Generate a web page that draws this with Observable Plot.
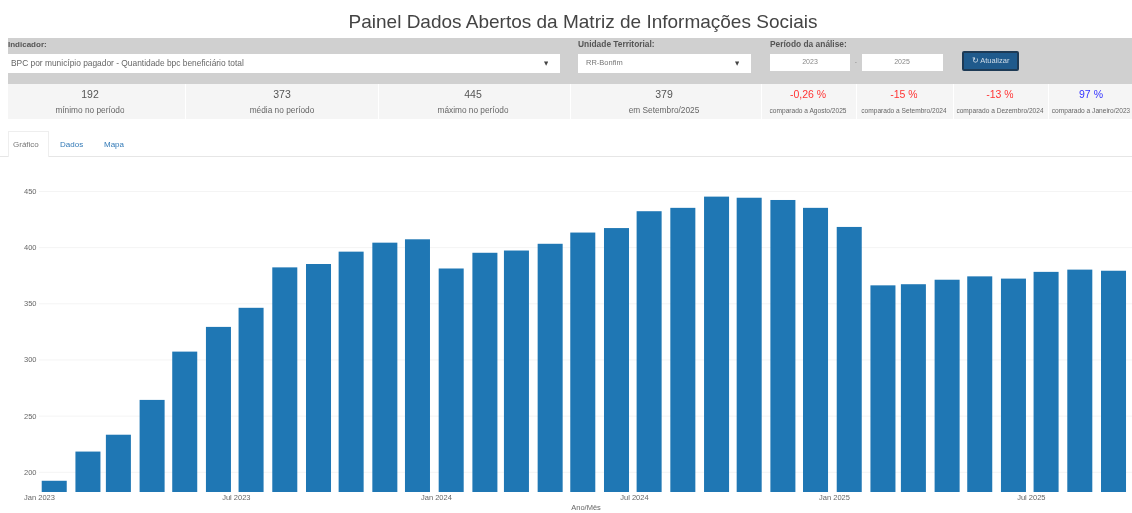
<!DOCTYPE html>
<html lang="pt-BR">
<head>
<meta charset="utf-8">
<script src="https://cdn.jsdelivr.net/npm/d3@7"></script>
<script src="https://cdn.jsdelivr.net/npm/@observablehq/plot@0.6"></script>
<style>
html,body{margin:0;padding:0;background:#fff;overflow:hidden;width:1132px;height:513px;font-family:"Liberation Sans",Arial,sans-serif;color:#555}
.a{position:absolute;white-space:nowrap;overflow:hidden}
.c{transform:translateX(-50%)}
#page{position:absolute;left:0;top:0;width:1132px;height:513px;overflow:hidden;filter:blur(0.4px)}
#chart{position:absolute;left:0;top:157px;filter:blur(0.4px)}
#chart svg{display:block}
</style>
</head>
<body>
<div id="page"></div>
<div id="chart"></div>
<script>
const startMonths = ["2023-01-15","2023-02-15","2023-03-15","2023-04-15","2023-05-15","2023-06-15","2023-07-15","2023-08-15","2023-09-15","2023-10-15","2023-11-15","2023-12-15","2024-01-15","2024-02-15","2024-03-15","2024-04-15","2024-05-15","2024-06-15","2024-07-15","2024-08-15","2024-09-15","2024-10-15","2024-11-15","2024-12-15","2025-01-15","2025-02-15","2025-03-15","2025-04-15","2025-05-15","2025-06-15","2025-07-15","2025-08-15","2025-09-15"];
const values = [192,218,233,264,307,329,346,382,385,396,404,407,381,395,397,403,413,417,432,435,445,444,442,435,418,366,367,371,374,372,378,380,379];
const xTicks = ["2023-01-01","2023-07-01","2024-01-01","2024-07-01","2025-01-01","2025-07-01"];
const yTicks = [200,250,300,350,400,450];
const kpiValues = ["192","373","445","379","-0,26 %","-15 %","-13 %","97 %"];
const kpiLabels = ["mínimo no período","média no período","máximo no período","em Setembro/2025","comparado a Agosto/2025","comparado a Setembro/2024","comparado a Dezembro/2024","comparado a Janeiro/2023"];
const kpiColors = ["#555","#555","#555","#555","#f33","#f33","#f33","#33f"];
const kpiLeft = [8,186,379,571,762,857,954,1049];
const kpiCenter = [90,282,473,664,808,904,1000,1091];
const tabs = ["Gráfico","Dados","Mapa"];

const page = document.getElementById("page");
function box(l,t,w,h,css){const d=document.createElement("div");d.className="a";d.style.cssText=`left:${l}px;top:${t}px;width:${w}px;height:${h}px;${css||""}`;page.appendChild(d);return d;}
function txt(s,l,t,size,css,center){const d=document.createElement("div");d.className="a"+(center?" c":"");d.textContent=s;d.style.cssText=`left:${l}px;top:${t}px;font-size:${size}px;line-height:${Math.ceil(size*1.3)}px;${css||""}`;page.appendChild(d);return d;}

txt("Painel Dados Abertos da Matriz de Informações Sociais",583,9,19,"color:#444",true);
box(8,38,1124,46,"background:#d0d0d0");
const lab="font-weight:bold;color:#555;";
txt("Indicador:",8,39,8,lab);
box(8,54,552,19,"background:#fff");
txt("BPC por município pagador - Quantidade bpc beneficiário total",11,58,8.4,"color:#666");
txt("▼",546,59,5.5,"color:#444;font-family:'DejaVu Sans'",true);
txt("Unidade Territorial:",578,39,8.4,lab);
box(578,54,173,19,"background:#fff");
txt("RR-Bonfim",586,58,7.5,"color:#777");
txt("▼",737,59,5.5,"color:#444;font-family:'DejaVu Sans'",true);
txt("Período da análise:",770,39,8.4,lab);
box(770,54,80,17,"background:#fff");
box(862,54,81,17,"background:#fff");
txt("2023",810,57,7,"color:#888",true);
txt("2025",902,57,7,"color:#888",true);
txt("-",856,57,7,"color:#888",true);
const btn=box(962,51,53,16,"background:#1f5a8c;border:2px solid #1d3a55;border-radius:2px;color:#cfdce8;font-size:7.5px;line-height:16px;text-align:center");
btn.textContent="↻ Atualizar";

box(8,84,1124,35,"background:#f5f5f5");
kpiValues.forEach((v,i)=>{
  if(i>0) box(kpiLeft[i]-1,84,1,35,"background:#fff");
  txt(v,kpiCenter[i],87,10.5,`color:${kpiColors[i]}`,true);
  txt(kpiLabels[i],kpiCenter[i],i<4?105:106,i<4?8.3:6.6,"color:#666",true);
});

box(0,156,1132,1,"background:#e6e6e6");
box(8,131,41,26,"background:#fff;border:1px solid #eee;border-bottom:none;box-sizing:border-box");
const tabX=[13,60,104];
tabs.forEach((t,i)=>txt(t,tabX[i],139,8,`color:${i===0?"#777":"#337ab7"}`));

const parse=d3.utcParse("%Y-%m-%d");
const data=startMonths.map((m,i)=>({date:parse(m),value:values[i]}));
const chart=Plot.plot({
  width:1132,height:356,marginLeft:39,marginRight:0,marginTop:34,marginBottom:21,
  style:{fontFamily:"'Liberation Sans',Arial,sans-serif",fontSize:"7.5px",color:"#666",background:"transparent"},
  x:{type:"utc",domain:[parse("2023-01-01"),d3.utcDay.offset(parse("2023-01-01"),1005)]},
  y:{domain:[182,450]},
  marks:[
    Plot.ruleY(yTicks,{stroke:"#f4f4f4",strokeWidth:1}),
    Plot.rectY(data,{x1:d=>d3.utcHour.offset(d.date,-276),x2:d=>d3.utcHour.offset(d.date,276),y1:182,y2:"value",fill:"#1f77b4"}),
    Plot.axisY({ticks:yTicks,tickSize:0,tickPadding:3,label:null}),
    Plot.axisX({ticks:xTicks.map(parse),tickFormat:d3.utcFormat("%b %Y"),tickSize:0,tickPadding:2,label:"Ano/Mês",labelAnchor:"center",labelArrow:"none",labelOffset:17})
  ]
});
document.getElementById("chart").appendChild(chart);
</script>
</body>
</html>
